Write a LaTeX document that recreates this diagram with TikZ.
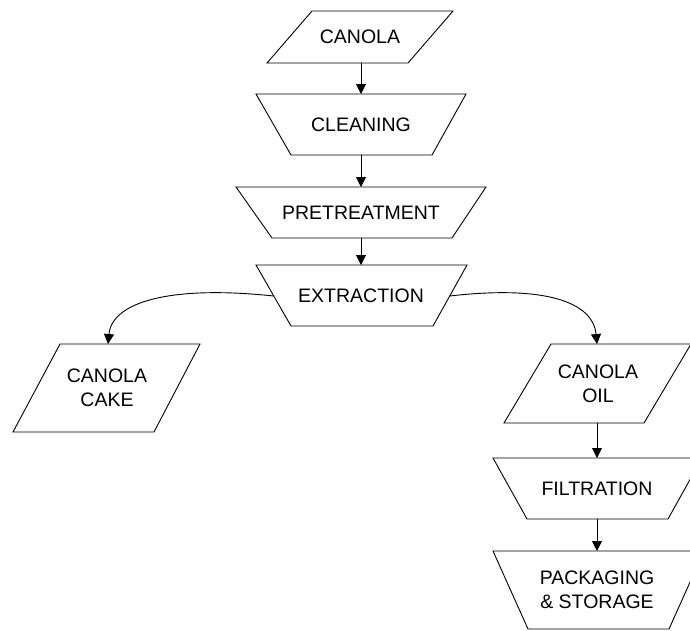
\documentclass[tikz,border=0pt]{standalone}
\usepackage{fontspec}
\setmainfont{Liberation Sans}
\usetikzlibrary{arrows.meta}
\begin{document}
\begin{tikzpicture}[x=1pt,y=-1pt,
  shapeline/.style={draw=black,line width=0.9pt,line join=miter},
  flow/.style={draw=black,line width=0.9pt,-{Triangle[length=10pt,width=10pt]}},
  lbl/.style={font=\fontsize{19.5}{24}\selectfont,align=center,inner sep=0pt}]
\clip (0,0) rectangle (690,630);
% shapes
\draw[shapeline] (312,11) -- (453,11) -- (408,63) -- (267,63) -- cycle;
\draw[shapeline] (256,94) -- (466,94) -- (432,155) -- (291,155) -- cycle;
\draw[shapeline] (236,187) -- (486,187) -- (452,238) -- (272,238) -- cycle;
\draw[shapeline] (256,265) -- (467,265) -- (433,326) -- (291,326) -- cycle;
\draw[shapeline] (60,344) -- (200,344) -- (154,432) -- (13,432) -- cycle;
\draw[shapeline] (551,344) -- (691,344) -- (644,423) -- (504,423) -- cycle;
\draw[shapeline] (493,458) -- (702,458) -- (668,519) -- (527,519) -- cycle;
\draw[shapeline] (493,551) -- (704,551) -- (669,629) -- (528,629) -- cycle;
% labels
\node[lbl] (canola) at (360,37) {CANOLA};
\node[lbl] (cleaning) at (361,124.5) {CLEANING};
\node[lbl] (pretreat) at (361,212.5) {PRETREATMENT};
\node[lbl] (extract) at (361,295.5) {EXTRACTION};
\node[lbl] (cake) at (107,388) {CANOLA\\CAKE};
\node[lbl] (oil) at (598,383.5) {CANOLA\\OIL};
\node[lbl] (filt) at (597,488.5) {FILTRATION};
\node[lbl] (pack) at (597,590) {PACKAGING\\\& STORAGE};
% connection points
\coordinate (canolaB) at (361,63);
\coordinate (cleanT) at (361,94);
\coordinate (cleanB) at (361,155);
\coordinate (preT) at (361,187);
\coordinate (preB) at (361,238);
\coordinate (extT) at (361,265);
\coordinate (extL) at (273.8,296);
\coordinate (extR) at (449.7,296);
\coordinate (cakeT) at (108,344);
\coordinate (oilT) at (597,344);
\coordinate (oilB) at (597,423);
\coordinate (filT) at (597,458);
\coordinate (filB) at (597,519);
\coordinate (packT) at (597,551);
% connectors
\draw[flow] (canolaB) -- (cleanT);
\draw[flow] (cleanB) -- (preT);
\draw[flow] (preB) -- (extT);
\draw[flow] (extL) .. controls (170,285) and (112,302) .. (cakeT);
\draw[flow] (extR) .. controls (545,285) and (593,302) .. (oilT);
\draw[flow] (oilB) -- (filT);
\draw[flow] (filB) -- (packT);
\end{tikzpicture}
\end{document}
